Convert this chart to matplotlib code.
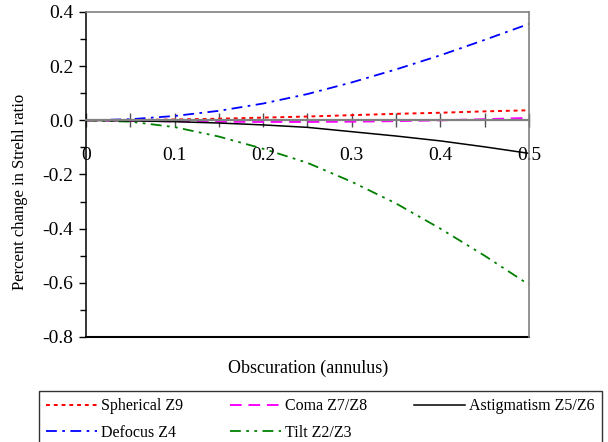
import numpy as np
import matplotlib
matplotlib.use('Agg')
import matplotlib.pyplot as plt
from matplotlib.ticker import MultipleLocator, FuncFormatter, FormatStrFormatter

plt.rcParams['font.family'] = ['Liberation Serif', 'DejaVu Serif']
plt.rcParams['axes.unicode_minus'] = False

# obscuration ratio (annulus)
obsc = [0, 0.05, 0.1, 0.15, 0.2, 0.25, 0.3, 0.35, 0.4, 0.45, 0.5]

# percent change in Strehl ratio
spherical = [0, 0.001, 0.003, 0.006, 0.010, 0.014, 0.019, 0.024, 0.028, 0.033, 0.037]
coma = [0, -0.002, -0.004, -0.005, -0.006, -0.006, -0.005, -0.003, 0.000, 0.004, 0.009]
astig = [0, -0.002, -0.005, -0.010, -0.017, -0.026, -0.042, -0.058, -0.076, -0.098, -0.122]
defocus = [0, 0.004, 0.016, 0.035, 0.062, 0.097, 0.140, 0.188, 0.240, 0.297, 0.356]
tilt = [0, -0.005, -0.025, -0.060, -0.105, -0.157, -0.227, -0.307, -0.400, -0.500, -0.607]

ymin, ymax = -0.8, 0.4

fig = plt.figure(figsize=(6.08, 4.42), dpi=100)
ax = fig.add_axes([0.1414, 0.2376, 0.7286, 0.7353])

l_sph, = ax.plot(obsc, spherical, color='red', lw=1.4, ls=(0, (2, 2)), label='Spherical Z9')
l_def, = ax.plot(obsc, defocus, color='blue', lw=1.3, ls=(0, (6, 3, 1.5, 3)), label='Defocus Z4')
l_com, = ax.plot(obsc, coma, color='magenta', lw=1.4, ls=(0, (6, 3.5)), label='Coma Z7/Z8')
l_tilt, = ax.plot(obsc, tilt, color='green', lw=1.3, ls=(0, (6, 3, 1.5, 3, 1.5, 3)), label='Tilt Z2/Z3')
l_ast, = ax.plot(obsc, astig, color='black', lw=1.1, label='Astigmatism Z5/Z6')

ax.set_xlim(0, 0.5)
ax.set_ylim(ymin, ymax)

# x axis runs through zero, frame drawn around
ax.spines['bottom'].set_position(('data', 0))
ax.spines['bottom'].set_color('#808080')
ax.spines['bottom'].set_linewidth(1.6)
ax.spines['top'].set_color('#808080')
ax.spines['right'].set_color('#808080')
ax.spines['top'].set_linewidth(1.2)
ax.spines['right'].set_linewidth(1.2)
ax.spines['left'].set_linewidth(1.1)
ax.axhline(ymin, color='black', lw=1.5, clip_on=False)

ax.xaxis.set_major_locator(MultipleLocator(0.1))
ax.xaxis.set_minor_locator(MultipleLocator(0.05))
ax.xaxis.set_major_formatter(FuncFormatter(lambda v, p: '0' if abs(v) < 1e-9 else '%.1f' % v))
ax.yaxis.set_major_locator(MultipleLocator(0.2))
ax.yaxis.set_minor_locator(MultipleLocator(0.1))
ax.yaxis.set_major_formatter(FormatStrFormatter('%.1f'))

ax.tick_params(axis='x', which='both', direction='inout', length=10, width=1,
               color='#505050', labelsize=14, pad=14)
ax.tick_params(axis='y', which='major', direction='out', length=5, width=1, labelsize=14, pad=4)
ax.tick_params(axis='y', which='minor', direction='out', length=4, width=1)

ax.set_ylabel('Percent change in Strehl ratio', fontsize=12)
ax.yaxis.set_label_coords(-0.13, 0.446)
fig.text(308 / 608, 1 - 368 / 442, 'Obscuration (annulus)', fontsize=13, ha='center', va='center')

handles = [l_sph, l_def, l_com, l_tilt, l_ast]
leg = fig.legend(handles, [h.get_label() for h in handles],
                 ncol=3, loc='upper left', mode='expand',
                 bbox_to_anchor=(39 / 608, 1 - 440 / 442, 563 / 608, 49 / 442),
                 fontsize=11.5, frameon=True, fancybox=False, edgecolor='black',
                 handlelength=3.2, handletextpad=0.25, borderpad=0.45,
                 labelspacing=0.65, borderaxespad=0)
leg.get_frame().set_linewidth(1.0)

fig.savefig('out.png', dpi=100)
